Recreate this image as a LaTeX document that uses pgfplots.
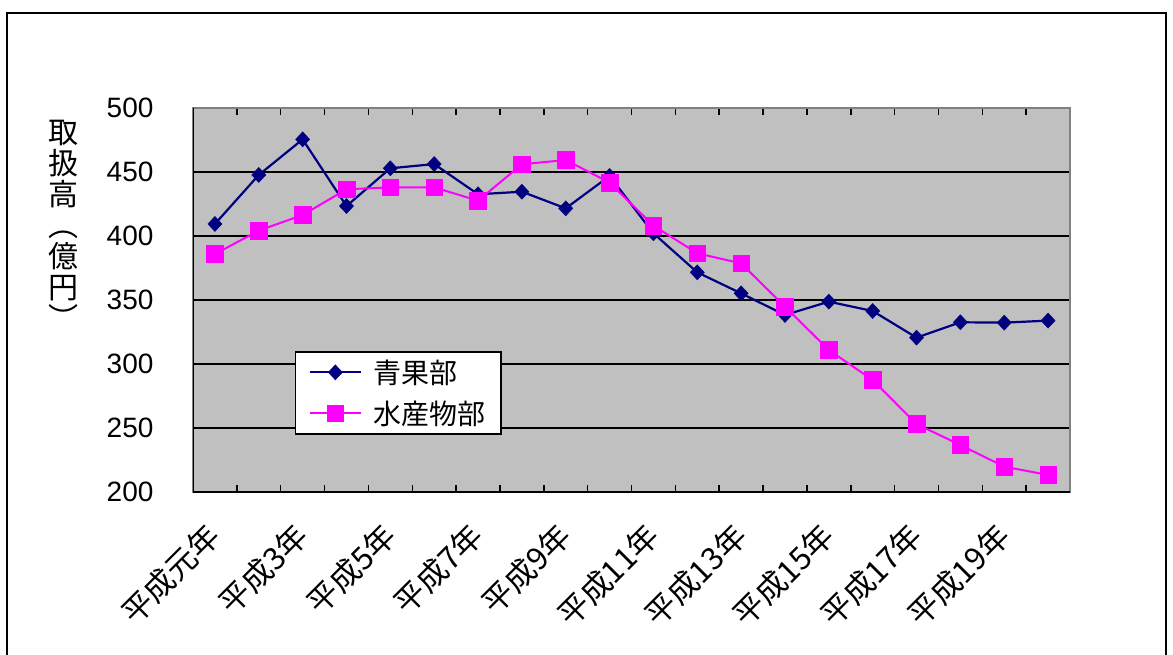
\documentclass[border=0pt]{standalone}
\usepackage{fontspec}
\setmainfont{Liberation Sans}
\newfontfamily\jp{Noto Sans CJK JP}
\usepackage{pgfplots}
\pgfplotsset{compat=1.18}

\definecolor{navyline}{HTML}{000080}
\definecolor{pinkline}{HTML}{FF00FF}
\definecolor{plotbg}{HTML}{C0C0C0}
\definecolor{edgegray}{HTML}{808080}

\begin{document}
\begin{tikzpicture}
\path[use as bounding box] (0pt,0pt) rectangle (1173pt,654pt);
% outer chart frame
\draw[line width=2pt] (7pt,-10pt) -- (7pt,641pt) -- (1166pt,641pt) -- (1166pt,-10pt);

% vertical y label
\node[align=center, font=\jp\fontsize{30}{31}\selectfont] at (63pt,429pt)
  {取\\扱\\高\\︵\\億\\円\\︶};

\begin{axis}[
    at={(193pt,162pt)}, anchor=south west,
    scale only axis, width=877pt, height=384pt,
    xmin=0.5, xmax=20.5, ymin=200, ymax=500,
    axis background/.style={fill=plotbg},
    axis line style={draw=edgegray, line width=1.5pt},
    xtick={0.5,1.5,...,20.5}, xticklabels={},
    tick align=inside, major tick length=7pt,
    xtick style={black, line width=1.5pt},
    extra x ticks={1,3,...,19},
    extra x tick labels={平成元年,平成3年,平成5年,平成7年,平成9年,平成11年,平成13年,平成15年,平成17年,平成19年},
    extra x tick style={major tick length=0pt, grid=none,
        xticklabel style={font=\jp\fontsize{31}{33}\selectfont,
            yshift=-36pt, xshift=2pt, rotate=45, anchor=east}},
    ytick={250,300,...,450},
    extra y ticks={200,500},
    extra y tick style={grid=none},
    ytick style={draw=none},
    ymajorgrids, grid style={black, line width=2pt},
    yticklabel style={font=\fontsize{28}{30}\selectfont, anchor=east, xshift=-36pt},
    /pgf/number format/assume math mode=true,
    legend style={at={(0.1163,0.367)}, anchor=north west,
        draw=black, line width=1.5pt, fill=white,
        font=\jp\fontsize{28}{30}\selectfont,
        inner xsep=13pt, inner ysep=6pt, row sep=12pt,
        /tikz/every odd column/.append style={column sep=10pt}},
    legend cell align=left,
    legend image code/.code={\draw[mark repeat=2, mark phase=2]
        plot coordinates {(0pt,0pt) (25.5pt,0pt) (51pt,0pt)};},
]
\addplot[navyline, line width=2.2pt, mark=diamond*,
    mark options={xscale=1.25, line width=0.5pt}, mark size=7.5pt]
coordinates {
    (1,409.4) (2,447.7) (3,475.5) (4,423.4) (5,452.9)
    (6,456.2) (7,432.6) (8,434.6) (9,421.6) (10,446.9)
    (11,402.1) (12,371.6) (13,355.2) (14,338.3) (15,348.7)
    (16,341.4) (17,320.6) (18,332.6) (19,332.3) (20,333.9)
};
\addlegendentry{青果部}
\addplot[pinkline, line width=2pt, mark=square*,
    mark options={line width=0.5pt}, mark size=8.3pt]
coordinates {
    (1,385.9) (2,404.2) (3,416.4) (4,436.5) (5,438.0)
    (6,438.0) (7,427.6) (8,456.0) (9,459.4) (10,441.7)
    (11,408.1) (12,386.5) (13,378.6) (14,344.8) (15,310.9)
    (16,287.5) (17,253.1) (18,236.7) (19,219.8) (20,213.3)
};
\addlegendentry{水産物部}
\draw[black, line width=2.5pt] (rel axis cs:0,1) -- (rel axis cs:0,0) -- (rel axis cs:1,0);
\end{axis}
\end{tikzpicture}
\end{document}
